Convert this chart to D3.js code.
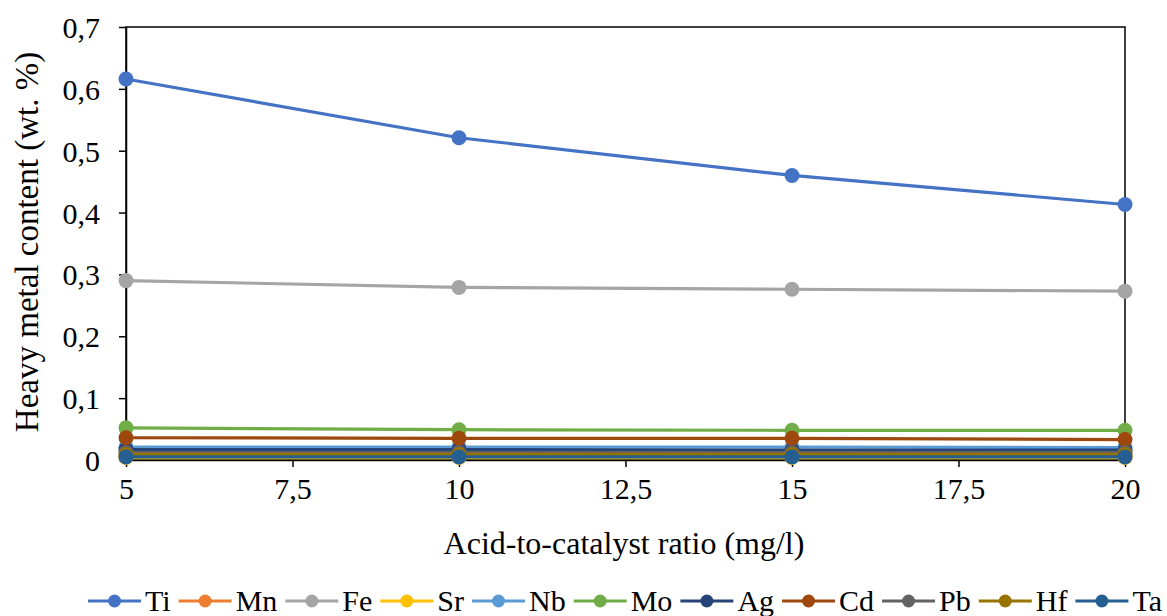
<!DOCTYPE html>
<html>
<head>
<meta charset="utf-8">
<script src="https://cdn.jsdelivr.net/npm/d3@7"></script>
<style>
  body { margin: 0; background: #fff; }
</style>
</head>
<body>
<div id="chart"></div>
<script>
// x values (acid-to-catalyst ratio)
const ratios = [5, 10, 15, 20];

// series values, wt. %
const metals = ['Ti', 'Mn', 'Fe', 'Sr', 'Nb', 'Mo', 'Ag', 'Cd', 'Pb', 'Hf', 'Ta'];
const ti = [0.616, 0.521, 0.460, 0.413];
const mn = [0.005, 0.005, 0.005, 0.005];
const fe = [0.290, 0.279, 0.276, 0.273];
const sr = [0.004, 0.004, 0.004, 0.004];
const nb = [0.021, 0.021, 0.021, 0.020];
const mo = [0.052, 0.049, 0.048, 0.048];
const ag = [0.017, 0.017, 0.016, 0.016];
const cd = [0.036, 0.035, 0.035, 0.033];
const pb = [0.012, 0.012, 0.012, 0.012];
const hf = [0.009, 0.009, 0.009, 0.009];
const ta = [0.005, 0.005, 0.005, 0.005];
const seriesValues = [ti, mn, fe, sr, nb, mo, ag, cd, pb, hf, ta];

const colors = ['#4472C4', '#ED7D31', '#A5A5A5', '#FFC000', '#5B9BD5', '#70AD47',
                '#264478', '#9E480E', '#636363', '#997300', '#255E91'];

// tick labels
const xTicks = [5, 7.5, 10, 12.5, 15, 17.5, 20];
const yTicks = [0, 0.1, 0.2, 0.3, 0.4, 0.5, 0.6, 0.7];

const W = 1167, H = 616;
const plot = { left: 126, right: 1125, top: 27, bottom: 460 };
const serif = '"Liberation Serif"';

const svg = d3.select('#chart').append('svg')
  .attr('width', W)
  .attr('height', H);

const x = d3.scaleLinear().domain([5, 20]).range([plot.left, plot.right]);
const y = d3.scaleLinear().domain([0, 0.7]).range([plot.bottom, plot.top]);

const comma = d => String(d).replace('.', ',');

// frame
svg.append('rect')
  .attr('x', plot.left).attr('y', plot.top)
  .attr('width', plot.right - plot.left)
  .attr('height', plot.bottom - plot.top)
  .attr('fill', 'none')
  .attr('stroke', '#000')
  .attr('stroke-width', 1.5);

// axes
const xAxis = svg.append('g')
  .attr('transform', `translate(0,${plot.bottom})`)
  .call(d3.axisBottom(x).tickValues(xTicks).tickFormat(comma).tickSize(7).tickSizeOuter(0));
const yAxis = svg.append('g')
  .attr('transform', `translate(${plot.left},0)`)
  .call(d3.axisLeft(y).tickValues(yTicks).tickFormat(comma).tickSize(7).tickSizeOuter(0));

[xAxis, yAxis].forEach(g => {
  g.attr('font-family', null);
  g.select('.domain').attr('stroke', '#000').attr('stroke-width', 1.5);
  g.selectAll('.tick line').attr('stroke', '#000').attr('stroke-width', 1.5);
  g.selectAll('.tick text')
    .attr('fill', '#000')
    .style('font-family', serif)
    .style('font-size', '30px');
});
xAxis.selectAll('.tick text').attr('dy', '1.05em').attr('y', 7);
yAxis.selectAll('.tick text').attr('x', -26).attr('dy', '0.35em');

// axis titles
svg.append('text')
  .attr('x', 624)
  .attr('y', 554)
  .attr('text-anchor', 'middle')
  .style('font-family', serif)
  .style('font-size', '32px')
  .text('Acid-to-catalyst ratio (mg/l)');

svg.append('text')
  .attr('transform', 'translate(38,242) rotate(-90)')
  .attr('text-anchor', 'middle')
  .style('font-family', serif)
  .style('font-size', '33px')
  .text('Heavy metal content (wt. %)');

// lines and markers
const line = d3.line()
  .x((d, i) => x(ratios[i]))
  .y(d => y(d));

metals.forEach((m, k) => {
  const g = svg.append('g').attr('class', 'series');
  g.append('path')
    .datum(seriesValues[k])
    .attr('d', line)
    .attr('fill', 'none')
    .attr('stroke', colors[k])
    .attr('stroke-width', 3.2);
  g.selectAll('circle')
    .data(seriesValues[k])
    .join('circle')
    .attr('cx', (d, i) => x(ratios[i]))
    .attr('cy', d => y(d))
    .attr('r', 7.5)
    .attr('fill', colors[k]);
});

// legend
const legend = svg.append('g');
const sampleW = 53;
let lx = 0;
metals.forEach((m, k) => {
  const item = legend.append('g').attr('transform', `translate(${lx},0)`);
  item.append('line')
    .attr('x1', 0).attr('x2', sampleW)
    .attr('y1', 0).attr('y2', 0)
    .attr('stroke', colors[k])
    .attr('stroke-width', 3.2);
  item.append('circle')
    .attr('cx', sampleW / 2).attr('cy', 0)
    .attr('r', 6.5)
    .attr('fill', colors[k]);
  const t = item.append('text')
    .attr('x', sampleW + 4)
    .attr('y', 10)
    .style('font-family', serif)
    .style('font-size', '30px')
    .text(m);
  lx += sampleW + 4 + t.node().getComputedTextLength() + 8;
});
lx -= 8;
legend.attr('transform', `translate(${625 - lx / 2},601)`);
</script>
</body>
</html>
